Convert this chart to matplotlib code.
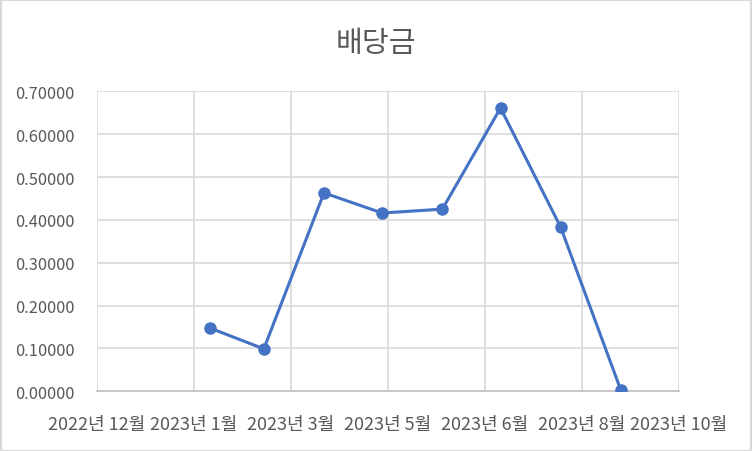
import matplotlib
matplotlib.use("Agg")
import matplotlib.pyplot as plt
from datetime import date, timedelta

plt.rcParams['font.family'] = ['Noto Sans CJK KR', 'DejaVu Sans']

# dividend dates and values
dates = [date(2023, 2, 4), date(2023, 3, 4), date(2023, 4, 4), date(2023, 5, 4),
         date(2023, 6, 4), date(2023, 7, 4), date(2023, 8, 4), date(2023, 9, 4)]
values = [0.148, 0.099, 0.463, 0.416, 0.425, 0.661, 0.383, 0.003]

# date axis: start and step in days (Excel-style)
axis_start = date(2022, 12, 8)
step_days = 50
n_ticks = 7
tick_dates = [axis_start + timedelta(days=step_days * i) for i in range(n_ticks)]
tick_lbls = [f"{d.year}년 {d.month}월" for d in tick_dates]
y_ticks = [0.0, 0.1, 0.2, 0.3, 0.4, 0.5, 0.6, 0.7]

fig = plt.figure(figsize=(7.52, 4.52), dpi=100)
ax = fig.add_axes([97 / 752, 1 - 392.3 / 452, 582 / 752, 300 / 452])

grid_c = '#d9d9d9'
text_c = '#595959'

ax.plot(dates, values, color='#4472c4', lw=2.2, marker='o', ms=8, zorder=3)

ax.set_xlim(tick_dates[0], tick_dates[-1])
ax.set_ylim(0, 0.7)
ax.set_xticks(tick_dates)
ax.set_xticklabels(tick_lbls)
ax.set_yticks(y_ticks)
ax.set_yticklabels([f"{v:.5f}" for v in y_ticks])

ax.grid(True, color=grid_c, lw=1.2)
ax.set_axisbelow(True)
for s in ['top', 'right', 'left']:
    ax.spines[s].set_visible(False)
ax.spines['bottom'].set_color('#bfbfbf')
ax.spines['bottom'].set_linewidth(1.2)
ax.tick_params(length=0, colors=text_c, labelsize=11.8)
ax.tick_params(axis='x', pad=17, labelsize=13)
ax.tick_params(axis='y', pad=16)

fig.text(0.5, 1 - 44 / 452, "배당금", ha='center', va='center', fontsize=21, color=text_c)

# chart border
fig.patches.append(plt.Rectangle((0.001, 0.001), 0.998, 0.997, transform=fig.transFigure,
                                 fill=False, edgecolor=grid_c, lw=1.5))

fig.savefig("out.png", dpi=100)
